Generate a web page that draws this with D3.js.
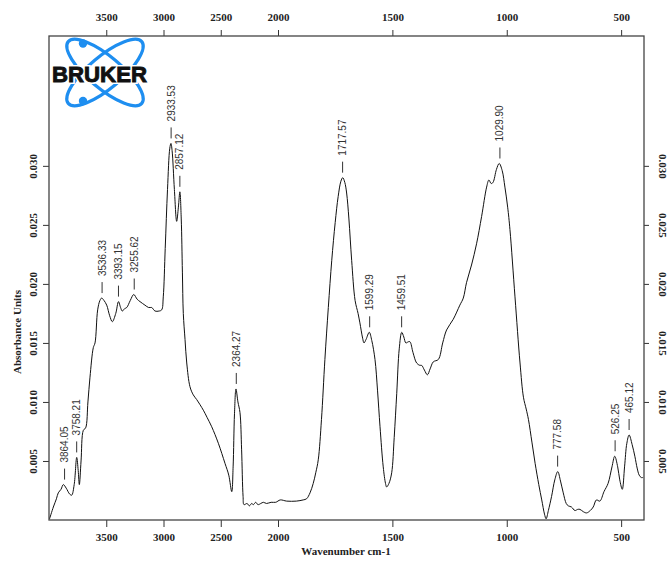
<!DOCTYPE html>
<html><head><meta charset="utf-8">
<script src="https://cdn.jsdelivr.net/npm/d3@7/dist/d3.min.js"></script>
<style>
html,body{margin:0;padding:0;background:#fff;}
svg{display:block;}
.tick text{font-family:"Liberation Serif","Times New Roman",serif;font-weight:bold;font-size:11px;fill:#222;}
.tick line{stroke:#333;stroke-width:1;}
.peak{font-family:"Liberation Sans",Arial,sans-serif;font-size:10px;fill:#333;}
</style></head>
<body>
<svg id="chart" width="672" height="566"></svg>
<script>
// Spectrum: wavenumber (cm-1) and absorbance
const wavenumbers = [3995,3962,3935,3919,3895,3875,3850,3820,3802,3780,3758,3745,3735,3720,3700,3680,3660,3642,3613,3598,3575,3555,3540,3520,3496,3470,3447,3417,3393,3375,3360,3340,3321,3290,3260,3230,3205,3162,3130,3103,3074,3040,3016,3002,2985,2965,2945,2935,2925,2905,2885,2870,2857,2845,2835,2827,2812,2797,2769,2740,2710,2652,2620,2579,2521,2463,2430,2404,2392,2380,2367,2350,2332,2318,2305,2297,2270,2250,2230,2215,2195,2175,2150,2128,2100,2060,2020,1990,1962,1920,1890,1875,1860,1846,1835,1824,1810,1795,1780,1765,1750,1737,1725,1717,1708,1700,1690,1678,1663,1650,1642,1630,1624,1615,1601,1590,1576,1565,1554,1540,1530,1525,1515,1503,1492,1481,1470,1459,1450,1441,1430,1423,1410,1394,1380,1372,1360,1347,1335,1321,1299,1280,1263,1234,1205,1190,1176,1154,1132,1110,1088,1078,1068,1060,1045,1033,1020,1008,996,986,964,942,927,915,905,890,876,860,847,835,828,818,804,790,777,765,753,740,731,717,702,690,680,665,651,635,622,608,593,575,557,540,528,515,506,495,485,475,465,452,440,430,421,412,404];
const absorbance = [0.0001,0.0011,0.0018,0.0023,0.0026,0.0030,0.0027,0.0022,0.0021,0.0030,0.0053,0.0042,0.0030,0.0050,0.0076,0.0078,0.0100,0.0121,0.0146,0.0150,0.0178,0.0186,0.0188,0.0186,0.0182,0.0173,0.0168,0.0175,0.0185,0.0180,0.0177,0.0179,0.0180,0.0186,0.0191,0.0187,0.0185,0.0182,0.0180,0.0180,0.0177,0.0177,0.0178,0.0189,0.0230,0.0280,0.0315,0.0319,0.0313,0.0280,0.0253,0.0265,0.0278,0.0255,0.0210,0.0175,0.0153,0.0133,0.0113,0.0106,0.0102,0.0093,0.0087,0.0079,0.0065,0.0048,0.0038,0.0024,0.0045,0.0090,0.0111,0.0100,0.0091,0.0060,0.0020,0.0013,0.0014,0.0012,0.0014,0.0013,0.0015,0.0013,0.0014,0.0015,0.0014,0.0015,0.0015,0.0017,0.0016,0.0016,0.0017,0.0018,0.0023,0.0031,0.0040,0.0051,0.0085,0.0136,0.0180,0.0220,0.0252,0.0274,0.0287,0.0290,0.0286,0.0277,0.0255,0.0220,0.0186,0.0175,0.0167,0.0154,0.0150,0.0153,0.0159,0.0152,0.0136,0.0110,0.0079,0.0045,0.0031,0.0028,0.0031,0.0040,0.0070,0.0107,0.0145,0.0159,0.0155,0.0150,0.0151,0.0151,0.0142,0.0133,0.0131,0.0131,0.0127,0.0123,0.0128,0.0134,0.0136,0.0150,0.0161,0.0170,0.0182,0.0188,0.0201,0.0216,0.0234,0.0257,0.0282,0.0288,0.0285,0.0286,0.0297,0.0302,0.0296,0.0282,0.0265,0.0246,0.0189,0.0133,0.0104,0.0094,0.0085,0.0066,0.0048,0.0030,0.0017,0.0005,0.0001,0.0008,0.0020,0.0034,0.0041,0.0033,0.0023,0.0014,0.0012,0.0011,0.0008,0.0009,0.0009,0.0007,0.0006,0.0008,0.0011,0.0017,0.0016,0.0024,0.0031,0.0045,0.0054,0.0045,0.0034,0.0026,0.0045,0.0065,0.0072,0.0064,0.0054,0.0044,0.0038,0.0036,0.0036];
const peakLabels = ["3864.05","3758.21","3536.33","3393.15","3255.62","2933.53","2857.12","2364.27","1717.57","1599.29","1459.51","1029.90","777.58","526.25","465.12"];
const xTickValues = [3500,3000,2500,2000,1500,1000,500];
const yTickValues = [0.005,0.010,0.015,0.020,0.025,0.030];
const xTitle = "Wavenumber cm-1";
const yTitle = "Absorbance Units";

const L = 49, R = 644, T = 36, B = 520;
const svg = d3.select("#chart");
const x = d3.scaleLinear().domain([4000, 2000, 400]).range([L, 278, R]);
const y = d3.scaleLinear().domain([0, 0.041]).range([B, T]);

// Logo
const logo = svg.append("g").attr("transform", "translate(105,72.5)");
[40, -40].forEach(a => {
  logo.append("ellipse").attr("rx", 48).attr("ry", 16)
    .attr("transform", `rotate(${a})`)
    .attr("fill", "none").attr("stroke", "#1e8ef0").attr("stroke-width", 3.2);
});
logo.append("circle").attr("cx", -22).attr("cy", -29).attr("r", 4.2).attr("fill", "#1e8ef0");
logo.append("circle").attr("cx", -22).attr("cy", 28.5).attr("r", 4.2).attr("fill", "#1e8ef0");
const brand = svg.append("g").attr("font-family", "'Liberation Sans',Arial,sans-serif")
  .attr("font-weight", "bold").attr("font-size", 22).attr("text-anchor", "middle");
brand.append("text").attr("x", 99.5).attr("y", 81.5)
  .attr("textLength", 95).attr("lengthAdjust", "spacingAndGlyphs")
  .attr("fill", "#fff").attr("stroke", "#fff").attr("stroke-width", 4).text("BRUKER");
brand.append("text").attr("x", 99.5).attr("y", 81.5)
  .attr("textLength", 95).attr("lengthAdjust", "spacingAndGlyphs")
  .attr("fill", "#111").attr("stroke", "#111").attr("stroke-width", 0.9).text("BRUKER");

// Axes
const fmt = d3.format(".3f");
const xfmt = d3.format("d");
const gBottom = svg.append("g").attr("transform", `translate(0,${B})`)
  .call(d3.axisBottom(x).tickValues(xTickValues).tickFormat(xfmt).tickSize(7).tickSizeOuter(0));
const gTop = svg.append("g").attr("transform", `translate(0,${T})`)
  .call(d3.axisTop(x).tickValues(xTickValues).tickFormat(xfmt).tickSize(6).tickSizeOuter(0));
const gLeft = svg.append("g").attr("transform", `translate(${L},0)`)
  .call(d3.axisLeft(y).tickValues(yTickValues).tickFormat(fmt).tickSize(6).tickSizeOuter(0));
const gRight = svg.append("g").attr("transform", `translate(${R},0)`)
  .call(d3.axisRight(y).tickValues(yTickValues).tickFormat(fmt).tickSize(5).tickSizeOuter(0));
[gBottom, gTop, gLeft, gRight].forEach(g => g.select(".domain").remove());
gBottom.selectAll("text").attr("y", 21).attr("dy", 0);
gTop.selectAll("text").attr("y", -15).attr("dy", 0);
gLeft.selectAll("text").attr("transform", "rotate(-90)").attr("text-anchor", "middle")
  .attr("x", 0).attr("y", -12).attr("dy", 0);
gRight.selectAll("text").attr("transform", "rotate(90)").attr("text-anchor", "middle")
  .attr("x", 0).attr("y", -15).attr("dy", 0);

svg.append("rect").attr("x", L).attr("y", T).attr("width", R - L).attr("height", B - T)
  .attr("fill", "none").attr("stroke", "#444").attr("stroke-width", 1.3);

svg.append("text").attr("x", 346).attr("y", 555).attr("text-anchor", "middle")
  .attr("font-family", "'Liberation Serif',serif").attr("font-weight", "bold").attr("font-size", 11)
  .attr("fill", "#222").text(xTitle);
svg.append("text").attr("transform", "translate(21,332) rotate(-90)").attr("text-anchor", "middle")
  .attr("font-family", "'Liberation Serif',serif").attr("font-weight", "bold").attr("font-size", 11)
  .attr("fill", "#222").text(yTitle);

// Spectrum
const data = wavenumbers.map((w, i) => ({w, a: absorbance[i]}));
svg.append("path").datum(data)
  .attr("fill", "none").attr("stroke", "#111").attr("stroke-width", 1)
  .attr("d", d3.line().x(d => x(d.w)).y(d => y(d.a)).curve(d3.curveCatmullRom.alpha(0.5)));

// Peak labels
peakLabels.forEach(lbl => {
  const w = +lbl;
  const near = data.filter(d => Math.abs(d.w - w) <= 20);
  const top = d3.max(near, d => d.a);
  const px = x(w), py = y(top);
  svg.append("line").attr("x1", px).attr("x2", px).attr("y1", py - 5).attr("y2", py - 16)
    .attr("stroke", "#333").attr("stroke-width", 1);
  svg.append("text").attr("class", "peak")
    .attr("transform", `translate(${px + 3.5},${py - 22}) rotate(-90)`)
    .attr("text-anchor", "start").text(lbl);
});
</script>
</body></html>
